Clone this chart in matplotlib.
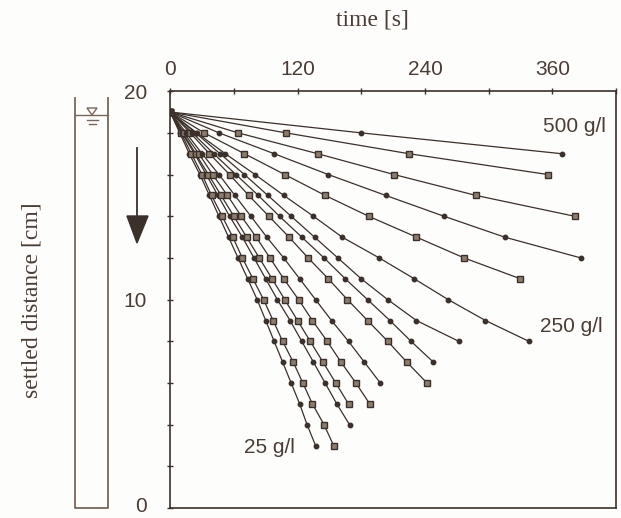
import matplotlib
matplotlib.use("Agg")
import matplotlib.pyplot as plt
import matplotlib.transforms as mtransforms
from matplotlib.patches import Polygon

# settled interface depth levels (cm), read every 1 cm
levels = [19, 18, 17, 16, 15, 14, 13, 12, 11, 10, 9, 8, 7, 6, 5, 4, 3]

# time (s) at which the interface passes each level, one list per concentration
conc = ["25", "50", "75", "100", "125", "150", "175", "200", "225", "250",
        "300", "350", "400", "450", "500"]
times = [
    [0, 9, 18, 28, 37, 46, 55, 64, 73, 82, 90, 98, 106, 114, 122, 129, 137],
    [0, 10, 20, 30, 39, 49, 59, 68, 78, 88, 97, 106, 116, 125, 134, 145, 154],
    [0, 11, 23, 34, 45, 56, 68, 79, 90, 101, 113, 124, 135, 146, 157, 169],
    [0, 12, 24, 36, 48, 60, 72, 84, 96, 108, 120, 132, 144, 156, 168],
    [0, 13, 27, 40, 54, 67, 81, 94, 107, 121, 134, 148, 161, 175, 188],
    [0, 15, 30, 46, 61, 76, 91, 107, 122, 137, 152, 168, 183, 198],
    [0, 19, 37, 56, 74, 93, 112, 130, 149, 167, 186, 205, 223, 242],
    [0, 21, 41, 62, 83, 103, 124, 145, 165, 186, 207, 227, 248],
    [0, 24, 47, 70, 92, 114, 136, 158, 180, 205, 232, 272],
    [0, 25, 52, 80, 107, 135, 162, 197, 230, 262, 297, 338],
    [0, 32, 70, 108, 146, 187, 232, 277, 330],
    [0, 46, 98, 149, 203, 258, 315, 387],
    [0, 64, 139, 211, 288, 381],
    [0, 109, 225, 356],
    [0, 180, 369],
]
markers = ["o", "s", "o", "s", "s", "o", "s", "o", "o", "o", "s", "o", "s", "s", "o"]

xticks = [0, 120, 240, 360]
yticks = [0, 10, 20]

ink = "#3b302a"
txt = "#4a3d35"

fig = plt.figure(figsize=(6.21, 5.18), dpi=100)
fig.patch.set_facecolor("#fdfdfb")

ax = fig.add_axes([0.274, 0.019, 0.718, 0.805])
ax.set_facecolor("#fdfdfb")

for t, m in zip(times, markers):
    d = levels[:len(t)]
    if m == "s":
        ax.plot(t, d, color=ink, lw=0.9, marker="s", ms=5,
                mfc="#8c7c6c", mec=ink, mew=1.0)
    else:
        ax.plot(t, d, color=ink, lw=0.9, marker="o", ms=3.2,
                mfc=ink, mec=ink)

ax.text(351, 18.3, "500 g/l", fontsize=15, color=txt, va="center",
        family="Liberation Sans")
ax.text(348, 8.7, "250 g/l", fontsize=15, color=txt, va="center",
        family="Liberation Sans")
ax.text(70, 2.9, "25 g/l", fontsize=15, color=txt, va="center",
        family="Liberation Sans")

ax.set_xlim(0, 420)
ax.set_ylim(0, 20)
ax.xaxis.tick_top()
ax.set_xticks(range(0, 421, 60))
ax.set_xticklabels([str(v) if v in xticks else "" for v in range(0, 421, 60)])
ax.set_yticks(range(0, 21, 2))
ax.set_yticklabels([str(v) if v in yticks else "" for v in range(0, 21, 2)])
ax.tick_params(axis="x", direction="inout", length=5, width=1.0, color=ink,
               labelsize=15, labelcolor=txt, pad=6)
ax.tick_params(axis="y", direction="inout", length=5, width=1.0, color=ink,
               labelsize=15, labelcolor=txt, pad=14)
for lab in ax.get_xticklabels() + ax.get_yticklabels():
    lab.set_family("Liberation Sans")
# lift the "0" label a little so it stays inside the figure
zero = ax.get_yticklabels()[0]
zero.set_transform(zero.get_transform() +
                   mtransforms.ScaledTranslation(0, 4 / 100, fig.dpi_scale_trans))
for s in ax.spines.values():
    s.set_color(ink)
    s.set_linewidth(1.2)

# overlay in pixel coordinates for the titles and the cylinder sketch
ov = fig.add_axes([0, 0, 1, 1], facecolor="none")
ov.set_xlim(0, 621)
ov.set_ylim(518, 0)
ov.axis("off")

ov.text(372, 20, "time [s]", fontsize=17, color=txt, ha="center", va="center",
        family="Liberation Serif")
ov.text(32, 300, "settled distance [cm]", fontsize=17, color=txt, rotation=90,
        ha="center", va="center", family="Liberation Serif")

cyl = "#7a6658"
ov.plot([75, 75, 108, 108], [98, 508, 508, 98], color=cyl, lw=1.3)
ov.plot([75, 108], [115, 115], color=cyl, lw=1.0)
ov.add_patch(Polygon([[87, 108], [97, 108], [92, 115]], closed=True,
                     fill=False, ec=cyl, lw=1.0))
ov.plot([87, 98], [120, 120], color=cyl, lw=1.0)
ov.plot([89, 96], [124, 124], color=cyl, lw=1.0)

ov.plot([137, 137], [148, 220], color=ink, lw=1.3)
ov.add_patch(Polygon([[127, 216], [148, 216], [137, 243]], closed=True,
                     fc=ink, ec=ink))

fig.savefig("out.png", dpi=100, facecolor=fig.get_facecolor())
